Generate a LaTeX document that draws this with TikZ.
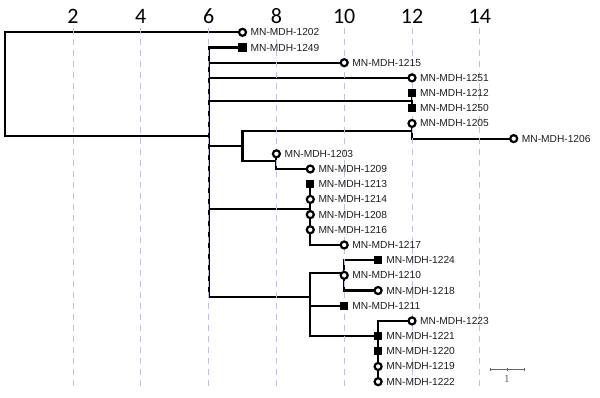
\documentclass[tikz,border=0pt]{standalone}
\usepackage{fontspec}
\setmainfont{Liberation Sans}
\newfontfamily\myaxisfont{Carlito}
\newfontfamily\myserif{Liberation Serif}
\usetikzlibrary{backgrounds}
\definecolor{gridc}{RGB}{190,194,224}
\definecolor{txt}{RGB}{30,30,30}
\definecolor{sbar}{RGB}{100,100,100}
\tikzset{
  edge/.style={line width=2.1pt, black, line cap=rect, line join=miter},
  opn/.style={circle, draw=black, fill=white, line width=2.2pt, minimum size=7pt, inner sep=0pt},
  sq/.style={rectangle, fill=black, minimum size=8.2pt, inner sep=0pt},
  lbl/.style={anchor=west, inner sep=0pt, text=txt, font=\fontsize{10.2}{12}\selectfont},
  ax/.style={font=\myaxisfont\fontsize{22}{24}\selectfont, inner sep=0pt},
  gridl/.style={gridc, dash pattern=on 6.5pt off 4.5pt, line width=1pt},
  sbl/.style={sbar, line width=1.2pt},
}
\begin{document}
\begin{tikzpicture}[x=1pt,y=1pt]
\useasboundingbox (0,0) rectangle (600,-397);
\begin{scope}[x=33.9pt, y=-15.19pt, shift={(5.2pt,-32.3pt)}]
% grid and axis labels
\foreach \v in {2,4,...,14} {
  \node[ax] (ax\v) at (\v,-1.07) {\v};
  \draw[gridl] (\v,-0.3) -- (\v,23.3);
}
% tips
\node[opn] (m1202) at (7,0) {};
\node[sq]  (m1249) at (7,1) {};
\node[opn] (m1215) at (10,2) {};
\node[opn] (m1251) at (12,3) {};
\node[sq]  (m1212) at (12,4) {};
\node[sq]  (m1250) at (12,5) {};
\node[opn] (m1205) at (12,6) {};
\node[opn] (m1206) at (15,7) {};
\node[opn] (m1203) at (8,8) {};
\node[opn] (m1209) at (9,9) {};
\node[sq]  (m1213) at (9,10) {};
\node[opn] (m1214) at (9,11) {};
\node[opn] (m1208) at (9,12) {};
\node[opn] (m1216) at (9,13) {};
\node[opn] (m1217) at (10,14) {};
\node[sq]  (m1224) at (11,15) {};
\node[opn] (m1210) at (10,16) {};
\node[opn] (m1218) at (11,17) {};
\node[sq]  (m1211) at (10,18) {};
\node[opn] (m1223) at (12,19) {};
\node[sq]  (m1221) at (11,20) {};
\node[sq]  (m1220) at (11,21) {};
\node[opn] (m1219) at (11,22) {};
\node[opn] (m1222) at (11,23) {};
% labels
\foreach \id in {1202,1249,1215,1251,1212,1250,1205,1206,1203,1209,1213,1214,1208,1216,1217,1224,1210,1218,1211,1223,1221,1220,1219,1222} {
  \node[lbl] (t\id) at ([xshift=8pt]m\id.center) {MN-MDH-\id};
}
% internal nodes
\coordinate (root) at (0,6.8);
\coordinate (A) at (6,6.8);
\coordinate (Atop) at (6,1);
\coordinate (Abot) at (6,17.4);
\coordinate (J12) at (12,4.5);
\coordinate (B) at (7,7.5);
\coordinate (Bt) at (7,6.5);
\coordinate (Bb) at (7,8.5);
\coordinate (C12) at (12,6.5);
\coordinate (C8) at (8,8.5);
\coordinate (Cn) at (9,11.63);
\coordinate (D) at (9,17.4);
\coordinate (D1) at (10,15.85);
\coordinate (D3) at (11,20);
% scale bar
\coordinate (sb1) at (14.3,22.2);
\coordinate (sb2) at (15.31,22.2);
\coordinate (sbm) at (14.805,22.2);
\node[font=\myserif\fontsize{11}{12}\selectfont, text=sbar, inner sep=0pt] (sbt) at (14.8,22.8) {1};
\draw[sbl] (sb1) -- (sb2);
\foreach \c in {sb1,sbm,sb2} \draw[sbar, line width=0.8pt] ([yshift=1.8pt]\c) -- ([yshift=-1.8pt]\c);
% edges
\begin{scope}[on background layer]
\draw[edge] (m1202.center) -| (root) -- (A);
\draw[edge] (m1249.center) -- (Atop) -- (Abot);
\draw[edge] (m1215.center -| A) -- (m1215.center);
\draw[edge] (m1251.center -| A) -- (m1251.center);
\draw[edge] (J12 -| A) -- (J12);
\draw[edge] (m1212.center) -- (m1250.center);
\draw[edge] (B -| A) -- (B);
\draw[edge] (Bt) -- (Bb);
\draw[edge] (Bt) -- (C12);
\draw[edge] (m1205.center) |- (m1206.center);
\draw[edge] (Bb) -- (C8);
\draw[edge] (m1203.center) |- (m1209.center);
\draw[edge] (Cn -| A) -- (Cn);
\draw[edge] (m1213.center) |- (m1217.center);
\draw[edge] (Abot) -- (D);
\draw[edge] (D1 -| D) -- (D1);
\draw[edge] (m1224.center) -| (m1210.center) |- (m1218.center);
\draw[edge] (m1211.center -| D) -- (m1211.center);
\draw[edge] (D3 -| D) -- (m1221.center);
\draw[edge] (D1 -| D) -- (D3 -| D);
\draw[edge] (m1223.center) -| (m1222.center);
\end{scope}
\end{scope}
\end{tikzpicture}
\end{document}
